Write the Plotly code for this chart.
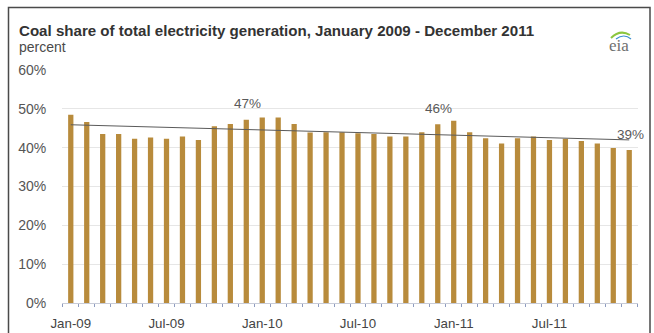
import plotly.graph_objects as go

months = ["Jan", "Feb", "Mar", "Apr", "May", "Jun", "Jul", "Aug", "Sep", "Oct", "Nov", "Dec"]
years = ["09", "10", "11"]
categories = [f"{m}-{y}" for y in years for m in months]

coal_share = [
    48.5, 46.6, 43.5, 43.5, 42.3, 42.6, 42.3, 42.9, 42.0, 45.5, 46.1, 47.2,
    47.8, 47.8, 46.1, 43.9, 44.0, 44.0, 43.7, 43.5, 42.9, 42.9, 44.0, 46.0,
    46.9, 44.0, 42.4, 41.1, 42.4, 42.9, 42.0, 42.3, 41.7, 41.1, 39.9, 39.4,
]

trend_x = ["Jan-09", "Dec-11"]
trend_y = [45.9, 42.0]

label_months = ["Dec-09", "Dec-10", "Dec-11"]
label_texts = ["47%", "46%", "39%"]

tick_labels = ["Jan-09", "Jul-09", "Jan-10", "Jul-10", "Jan-11", "Jul-11"]
y_ticks = [0, 10, 20, 30, 40, 50, 60]

W, H = 654, 333
L, R, T, B = 62, 16, 70, 30
pw, ph = W - L - R, H - T - B

def px_x(p):
    return (p - L) / pw

def px_y(p):
    return (H - B - p) / ph

idx = {c: i for i, c in enumerate(categories)}
FONT = "Liberation Sans, Arial"

fig = go.Figure()
fig.add_trace(go.Bar(
    x=list(range(len(categories))), y=coal_share,
    marker=dict(color="#B88B3C", line=dict(width=0)),
    width=0.33, hoverinfo="skip",
))
fig.add_trace(go.Scatter(
    x=[idx[c] for c in trend_x], y=trend_y, mode="lines",
    line=dict(color="#5a5a5a", width=1), hoverinfo="skip",
))

annotations = []
for m, t in zip(label_months, label_texts):
    annotations.append(dict(
        x=idx[m], y=coal_share[idx[m]], text=t, showarrow=False,
        yshift=16, xshift=1, font=dict(family=FONT, size=13.5, color="#5a5a5a"),
    ))

annotations += [
    dict(xref="paper", yref="paper", x=px_x(17), y=px_y(31), xanchor="left", yanchor="middle",
         text="<b>Coal share of total electricity generation, January 2009 - December 2011</b>",
         showarrow=False, font=dict(family=FONT, size=15.1, color="#333333")),
    dict(xref="paper", yref="paper", x=px_x(17), y=px_y(47), xanchor="left", yanchor="middle",
         text="percent", showarrow=False,
         font=dict(family=FONT, size=14, color="#4a4a4a")),
    dict(xref="paper", yref="paper", x=px_x(619), y=px_y(45), xanchor="center", yanchor="middle",
         text="eia", showarrow=False,
         font=dict(family="Liberation Serif, serif", size=17, color="#6f6f6f")),
]

shapes = [
    dict(type="rect", xref="paper", yref="paper",
         x0=px_x(8.5), x1=px_x(650), y0=px_y(7.5), y1=px_y(345),
         line=dict(color="#4a4a4a", width=1.5), fillcolor="rgba(0,0,0,0)", layer="above"),
    dict(type="path", xref="paper", yref="paper",
         path=f"M {px_x(611)},{px_y(38)} Q {px_x(620)},{px_y(29)} {px_x(630)},{px_y(35)}",
         line=dict(color="#8cc63f", width=2)),
    dict(type="path", xref="paper", yref="paper",
         path=f"M {px_x(616)},{px_y(39)} Q {px_x(624)},{px_y(33)} {px_x(631)},{px_y(39)}",
         line=dict(color="#3a8fd0", width=1.2)),
]

fig.update_layout(
    width=W, height=H,
    margin=dict(l=L, r=R, t=T, b=B),
    paper_bgcolor="white", plot_bgcolor="white",
    showlegend=False,
    annotations=annotations, shapes=shapes,
    xaxis=dict(
        range=[-0.55, 35.55], automargin=False,
        tickmode="array", tickvals=[idx[c] for c in tick_labels], ticktext=tick_labels,
        ticks="outside", ticklen=8, tickcolor="rgba(0,0,0,0)",
        tickfont=dict(family=FONT, size=13.3, color="#444444"),
        showgrid=False, zeroline=False, showline=True, linecolor="#c8ccd8", linewidth=1,
        minor=dict(tickmode="linear", tick0=0.5, dtick=1, ticks="outside", ticklen=3,
                   tickcolor="#8e9cc0", showgrid=False),
    ),
    yaxis=dict(
        range=[0, 60], automargin=False, tickvals=y_ticks, ticktext=[f"{v}%" for v in y_ticks],
        ticks="outside", ticklen=12, tickcolor="rgba(0,0,0,0)",
        tickfont=dict(family=FONT, size=14, color="#555555"),
        showgrid=True, gridcolor="#e6e6e6", gridwidth=1, zeroline=False, showline=False,
    ),
)

fig.write_html("out.html")
